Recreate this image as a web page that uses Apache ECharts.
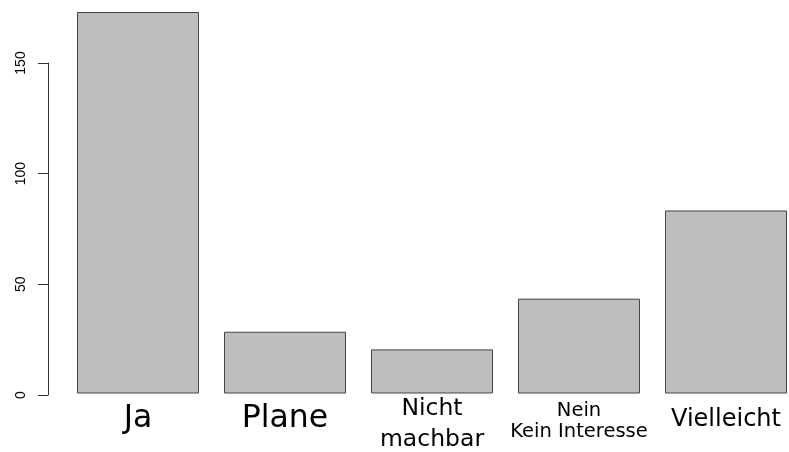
<!DOCTYPE html>
<html>
<head>
<meta charset="utf-8">
<script src="https://cdn.jsdelivr.net/npm/echarts@6/dist/echarts.min.js"></script>
<style>
  html, body { margin: 0; padding: 0; background: #fff; }
  #chart { width: 789px; height: 452px; }
</style>
</head>
<body>
<div id="chart"></div>
<script>
// answers and how many said so
const categories = ['Ja', 'Plane', 'Nicht\nmachbar', 'Nein\nKein Interesse', 'Vielleicht'];
const counts = [173, 28, 20, 43, 83];
const yTicks = [0, 50, 100, 150];

// rich text style for each line of each category label (R drew them at different sizes)
const labelStyle = [['big'], ['big'], ['mid', 'mid'], ['nein', 'kein'], ['viel']];

const chart = echarts.init(document.getElementById('chart'));

const font = 'DejaVu Sans';

const option = {
    backgroundColor: '#fff',
    animation: false,
    grid: [
        // categories sit on the ends of the axis, bars keep a fixed width
        { left: 138, right: 63, top: 12, bottom: 57 },
        // R style axis, only drawn up to 150
        { left: 48, width: 10, top: 63, bottom: 57 }
    ],
    xAxis: [
        {
            type: 'category',
            gridIndex: 0,
            data: categories,
            boundaryGap: false,
            axisLine: { show: false },
            axisTick: { show: false },
            axisLabel: {
                margin: 0,
                interval: 0,
                color: '#000',
                fontFamily: font,
                formatter: function (v, i) {
                    return v.split('\n').map(function (s, k) {
                        return '{' + labelStyle[i][k] + '|' + s + '}';
                    }).join('\n');
                },
                rich: {
                    big: { fontSize: 31.5, lineHeight: 51, fontFamily: font, color: '#000' },
                    mid: { fontSize: 23.5, lineHeight: 31, fontFamily: font, color: '#000' },
                    viel: { fontSize: 24, lineHeight: 53, fontFamily: font, color: '#000' },
                    nein: { fontSize: 19.5, lineHeight: 34, fontFamily: font, color: '#000' },
                    kein: { fontSize: 19.5, lineHeight: 9, fontFamily: font, color: '#000' }
                }
            }
        },
        { type: 'value', gridIndex: 1, show: false, min: 0, max: 1 }
    ],
    yAxis: [
        { type: 'value', gridIndex: 0, min: 0, max: 173, show: false },
        {
            type: 'value',
            gridIndex: 1,
            min: yTicks[0],
            max: yTicks[yTicks.length - 1],
            interval: 50,
            axisLine: { show: true, lineStyle: { color: '#333', width: 1 } },
            axisTick: { show: true, length: 10, lineStyle: { color: '#333' } },
            splitLine: { show: false },
            axisLabel: {
                rotate: 90,
                margin: 20,
                fontSize: 14,
                fontFamily: 'Liberation Sans',
                color: '#000'
            }
        }
    ],
    series: [
        {
            type: 'bar',
            xAxisIndex: 0,
            yAxisIndex: 0,
            data: counts,
            barWidth: 122,
            clip: false,
            itemStyle: { color: '#bebebe', borderColor: '#444', borderWidth: 1 }
        },
        { type: 'bar', xAxisIndex: 1, yAxisIndex: 1, data: [] }
    ]
};

chart.setOption(option);
</script>
</body>
</html>
